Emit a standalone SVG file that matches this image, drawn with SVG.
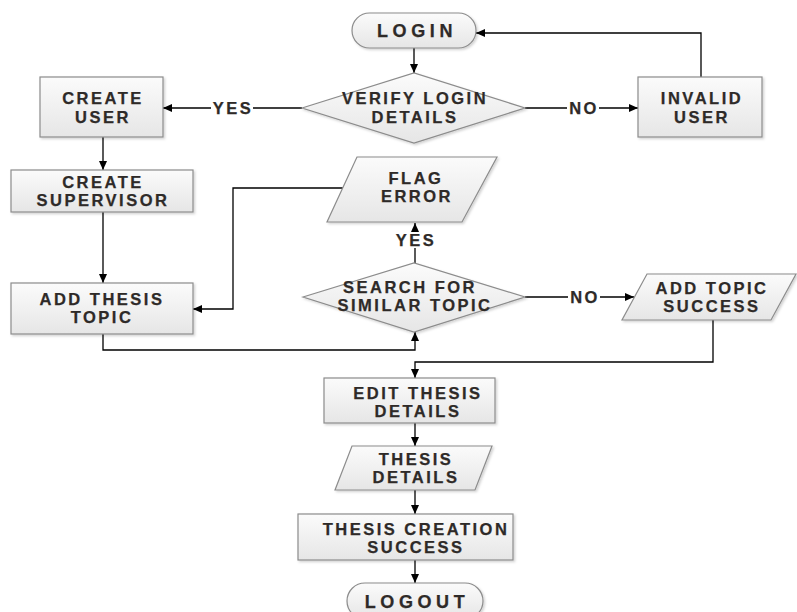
<svg xmlns="http://www.w3.org/2000/svg" width="797" height="612" viewBox="0 0 797 612">
<defs>
<linearGradient id="g" x1="0" y1="0" x2="0" y2="1"><stop offset="0" stop-color="#fbfbfb"/><stop offset="1" stop-color="#e6e6e6"/></linearGradient>
<marker id="a" markerWidth="10" markerHeight="10" refX="9" refY="5" orient="auto" markerUnits="userSpaceOnUse"><path d="M0,1 L9,5 L0,9 Z" fill="#000"/></marker>
<filter id="s" x="-10%" y="-10%" width="130%" height="140%"><feDropShadow dx="1.5" dy="1.5" stdDeviation="1" flood-color="#000" flood-opacity="0.18"/></filter>
</defs>
<style>
.n{fill:url(#g);stroke:#8c8c8c;stroke-width:1.2;filter:url(#s)}
.t{font-family:"Liberation Sans",Arial,sans-serif;font-weight:bold;font-size:16.5px;letter-spacing:2.5px;fill:#2e2a28;stroke:#2e2a28;stroke-width:0.25;text-anchor:middle}
.big{font-size:18px;letter-spacing:4.6px}
.c{fill:none;stroke:#000;stroke-width:1.3}
.lb{fill:#fff}
</style>
<rect width="797" height="612" fill="#fff"/>
<g id="connectors">
<path class="c" d="M414,48 V73" marker-end="url(#a)"/>
<path class="c" d="M302,108 H163" marker-end="url(#a)"/>
<path class="c" d="M525,108 H638" marker-end="url(#a)"/>
<path class="c" d="M701,77 V33 H476" marker-end="url(#a)"/>
<path class="c" d="M103,137 V170" marker-end="url(#a)"/>
<path class="c" d="M103,212 V283" marker-end="url(#a)"/>
<path class="c" d="M343,188 H233 V309 H193" marker-end="url(#a)"/>
<path class="c" d="M415,263 V223" marker-end="url(#a)"/>
<path class="c" d="M103,334 V350 H415 V332" marker-end="url(#a)"/>
<path class="c" d="M525,297 H634" marker-end="url(#a)"/>
<path class="c" d="M713,320 V362 H415 V378" marker-end="url(#a)"/>
<path class="c" d="M415,423 V446" marker-end="url(#a)"/>
<path class="c" d="M415,490 V514" marker-end="url(#a)"/>
<path class="c" d="M415,560 V583" marker-end="url(#a)"/>
<rect class="lb" x="211" y="100" width="42" height="16"/>
<text class="t" x="233" y="114">YES</text>
<rect class="lb" x="567" y="100" width="32" height="16"/>
<text class="t" x="584" y="114">NO</text>
<rect class="lb" x="394" y="232" width="42" height="16"/>
<text class="t" x="416" y="246">YES</text>
<rect class="lb" x="568" y="289" width="32" height="16"/>
<text class="t" x="585" y="303">NO</text>
</g>
<g id="login">
<rect class="n" x="352" y="13" width="124" height="35" rx="17.5"/>
<text class="t big" x="417" y="37">LOGIN</text>
</g>
<g id="verify">
<polygon class="n" points="302,108 414,73 525,108 414,143"/>
<text class="t" x="415" y="104">VERIFY LOGIN</text>
<text class="t" x="415" y="123">DETAILS</text>
</g>
<g id="create-user">
<rect class="n" x="40" y="77" width="123" height="60"/>
<text class="t" x="103" y="104">CREATE</text>
<text class="t" x="103" y="123">USER</text>
</g>
<g id="invalid-user">
<rect class="n" x="638" y="77" width="124" height="60"/>
<text class="t" x="702" y="104">INVALID</text>
<text class="t" x="702" y="123">USER</text>
</g>
<g id="create-supervisor">
<rect class="n" x="11" y="170" width="182" height="42"/>
<text class="t" x="103" y="188">CREATE</text>
<text class="t" x="103" y="206">SUPERVISOR</text>
</g>
<g id="flag-error">
<polygon class="n" points="357,157 497,157 462,222 327,222"/>
<text class="t" x="416" y="184">FLAG</text>
<text class="t" x="417" y="202">ERROR</text>
</g>
<g id="add-thesis-topic">
<rect class="n" x="11" y="283" width="182" height="51"/>
<text class="t" x="102" y="305">ADD THESIS</text>
<text class="t" x="102" y="323">TOPIC</text>
</g>
<g id="search">
<polygon class="n" points="303,297 414,263 525,297 414,332"/>
<text class="t" x="410" y="293">SEARCH FOR</text>
<text class="t" x="415" y="311">SIMILAR TOPIC</text>
</g>
<g id="add-topic-success">
<polygon class="n" points="647,274 796,274 771,320 622,320"/>
<text class="t" x="712" y="294">ADD TOPIC</text>
<text class="t" x="712" y="312">SUCCESS</text>
</g>
<g id="edit-thesis">
<rect class="n" x="324" y="378" width="171" height="45"/>
<text class="t" x="418" y="399">EDIT THESIS</text>
<text class="t" x="418" y="417">DETAILS</text>
</g>
<g id="thesis-details">
<polygon class="n" points="352,446 492,446 475,490 335,490"/>
<text class="t" x="416" y="465">THESIS</text>
<text class="t" x="416" y="483">DETAILS</text>
</g>
<g id="thesis-creation">
<rect class="n" x="298" y="514" width="215" height="46"/>
<text class="t" x="416" y="535">THESIS CREATION</text>
<text class="t" x="416" y="553">SUCCESS</text>
</g>
<g id="logout">
<rect class="n" x="347" y="583" width="136" height="36" rx="18"/>
<text class="t big" x="417" y="608">LOGOUT</text>
</g>
</svg>
